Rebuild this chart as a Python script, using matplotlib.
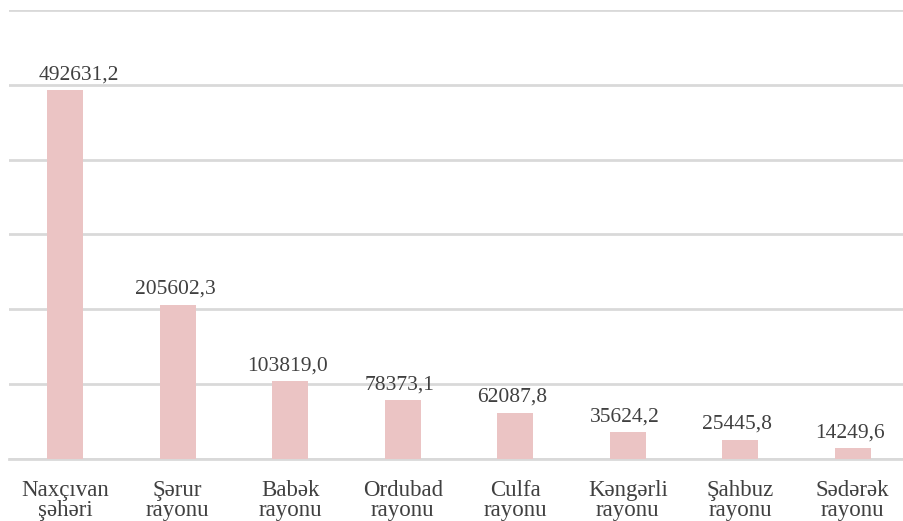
import matplotlib
matplotlib.use("Agg")
import matplotlib.pyplot as plt
import numpy as np

categories = ["Naxçıvan\nşəhəri", "Şərur\nrayonu", "Babək\nrayonu", "Ordubad\nrayonu",
              "Culfa\nrayonu", "Kəngərli\nrayonu", "Şahbuz\nrayonu", "Sədərək\nrayonu"]
values = [492631.2, 205602.3, 103819.0, 78373.1, 62087.8, 35624.2, 25445.8, 14249.6]
value_labels = ["492631,2", "205602,3", "103819,0", "78373,1", "62087,8", "35624,2", "25445,8", "14249,6"]

plt.rcParams['font.family'] = ['Liberation Serif', 'DejaVu Serif']

fig = plt.figure(figsize=(9.04, 5.21), dpi=100)
ax = fig.add_axes([9/904, 1 - 459/521, 900/904, (459 - 10) / 521])

x = np.arange(len(categories))
ax.bar(x, values, width=0.32, color="#ebc4c4", zorder=3)
for i, (xi, v, lab) in enumerate(zip(x, values, value_labels)):
    dx = 10 if i == 0 else -2
    ax.annotate(lab, (xi, v), xytext=(dx, 4.5), textcoords="offset points",
                ha="center", va="bottom", fontsize=15.5, color="#404040")

ax.set_ylim(0, 600000)
ax.set_xlim(-0.5, len(categories) - 0.5)
ax.set_yticks(np.arange(0, 600001, 100000))
ax.yaxis.grid(True, color="#d9d9d9", linewidth=2, zorder=0)
ax.tick_params(axis="y", left=False, labelleft=False)
ax.set_xticks(x)
ax.set_xticklabels(categories, fontsize=16.5, color="#404040", linespacing=0.95)
ax.tick_params(axis="x", length=0, pad=15)
for s in ["top", "right", "left"]:
    ax.spines[s].set_visible(False)
ax.spines["bottom"].set_color("#d9d9d9")
ax.spines["bottom"].set_linewidth(2)

fig.savefig("out.png", dpi=100)
